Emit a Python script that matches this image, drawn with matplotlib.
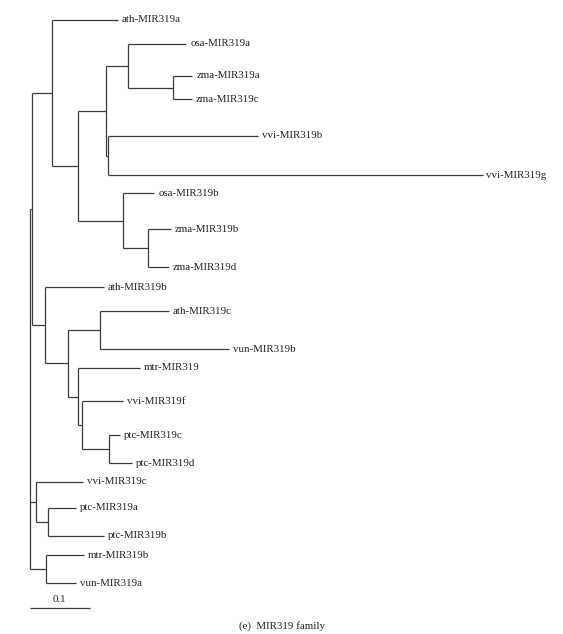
import matplotlib
matplotlib.use("Agg")
import matplotlib.pyplot as plt

# ---- tree data ----
# each node: name, parent, branch length (substitutions/site)
node_names = [
    "N1", "A", "ath-MIR319a", "B", "C", "D", "osa-MIR319a", "Z1",
    "zma-MIR319a", "zma-MIR319c", "E", "vvi-MIR319b", "vvi-MIR319g",
    "F", "osa-MIR319b", "G", "zma-MIR319b", "zma-MIR319d",
    "H", "ath-MIR319b", "I", "J", "ath-MIR319c", "vun-MIR319b",
    "K", "mtr-MIR319", "L", "vvi-MIR319f", "M", "ptc-MIR319c", "ptc-MIR319d",
    "N2", "vvi-MIR319c", "O", "ptc-MIR319a", "ptc-MIR319b",
    "N3", "mtr-MIR319b", "vun-MIR319a",
]
node_parents = [
    "root", "N1", "A", "A", "B", "C", "D", "D",
    "Z1", "Z1", "C", "E", "E",
    "B", "F", "F", "G", "G",
    "N1", "H", "H", "I", "J", "J",
    "I", "K", "K", "L", "L", "M", "M",
    "root", "N2", "N2", "O", "O",
    "root", "N3", "N3",
]
branch_lengths = [
    0.004, 0.033, 0.110, 0.043, 0.0475, 0.036, 0.098, 0.075,
    0.033, 0.032, 0.0025, 0.250, 0.625,
    0.075, 0.053, 0.042, 0.038, 0.035,
    0.021, 0.099, 0.039, 0.053, 0.115, 0.215,
    0.017, 0.103, 0.007, 0.067, 0.045, 0.017, 0.037,
    0.011, 0.078, 0.019, 0.0475, 0.094,
    0.0275, 0.063, 0.050,
]
# leaf order and vertical rows (top to bottom)
leaf_names = [
    "ath-MIR319a", "osa-MIR319a", "zma-MIR319a", "zma-MIR319c", "vvi-MIR319b",
    "vvi-MIR319g", "osa-MIR319b", "zma-MIR319b", "zma-MIR319d", "ath-MIR319b",
    "ath-MIR319c", "vun-MIR319b", "mtr-MIR319", "vvi-MIR319f", "ptc-MIR319c",
    "ptc-MIR319d", "vvi-MIR319c", "ptc-MIR319a", "ptc-MIR319b", "mtr-MIR319b",
    "vun-MIR319a",
]
leaf_rows = [20, 44, 76, 99, 136, 175, 193, 229, 267, 287, 311, 349, 368, 401,
             435, 463, 482, 508, 536, 555, 583]

scale_value = 0.1
scale_label = "0.1"
caption = "(e)  MIR319 family"

# ---- layout ----
children = {}
for n, p in zip(node_names, node_parents):
    children.setdefault(p, []).append(n)
blen = dict(zip(node_names, branch_lengths))
row_of = dict(zip(leaf_names, leaf_rows))

xpos = {"root": 0.0}
def set_x(n):
    for c in children.get(n, []):
        xpos[c] = xpos[n] + blen[c]
        set_x(c)
set_x("root")

ypos = {}
def set_y(n):
    if n not in children:
        ypos[n] = row_of[n]
        return ypos[n]
    ys = [set_y(c) for c in children[n]]
    ypos[n] = (ys[0] + ys[-1]) / 2.0
    return ypos[n]
set_y("root")

W, H = 563, 634
px = 600.0  # pixels per unit
x0 = 29.5
fig = plt.figure(figsize=(W / 100, H / 100), dpi=100)
ax = fig.add_axes([0, 0, 1, 1])
ax.set_xlim(-x0 / px, (W - x0) / px)
ax.set_ylim(H, 0)
ax.axis("off")

lc = "#3c3c3c"
lw = 0.9
font = dict(family=["Liberation Serif", "DejaVu Serif"], size=7.8, color="#222222")

for n in xpos:
    if n == "root":
        pass
    else:
        p = node_parents[node_names.index(n)]
        ax.plot([xpos[p], xpos[n]], [ypos[n], ypos[n]], color=lc, lw=lw,
                solid_capstyle="butt")
    if n in children:
        ys = [ypos[c] for c in children[n]]
        ax.plot([xpos[n], xpos[n]], [min(ys), max(ys)], color=lc, lw=lw,
                solid_capstyle="butt")
    else:
        ax.text(xpos[n] + 4 / px, ypos[n], n, ha="left", va="center", **font)

# scale bar
ax.plot([0, scale_value], [608, 608], color=lc, lw=lw, solid_capstyle="butt")
ax.text(scale_value / 2, 600, scale_label, ha="center", va="center", **font)

fig.text(282 / W, 1 - 626 / H, caption, ha="center", va="center", **font)

fig.savefig("out.png", dpi=100)
